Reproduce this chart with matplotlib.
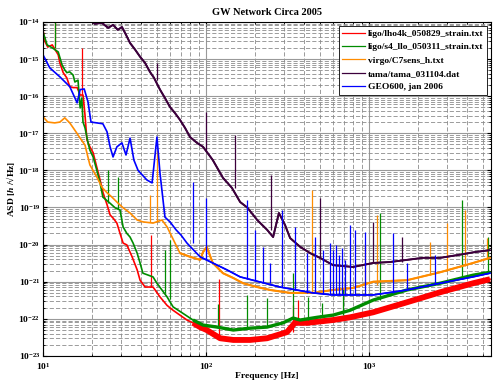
import numpy as np
import matplotlib
matplotlib.use("Agg")
import matplotlib.pyplot as plt
from matplotlib.ticker import FixedLocator, NullFormatter

plt.rcParams['font.family'] = ['Liberation Serif', 'DejaVu Serif']
plt.rcParams['font.weight'] = 'bold'
plt.rcParams['mathtext.fontset'] = 'custom'
plt.rcParams['mathtext.rm'] = 'Liberation Serif:bold'
plt.rcParams['mathtext.bf'] = 'Liberation Serif:bold'
plt.rcParams['mathtext.it'] = 'Liberation Serif:italic:bold'
plt.rcParams['mathtext.default'] = 'bf'

# ---- data (Hz, strain / sqrt(Hz)) ----
lho_f = [10, 10.3, 10.7, 11.4, 12.4, 12.7, 13.3, 14.0, 14.6, 15.3, 16.2, 16.9, 17.6,
         18.1, 18.6, 19.4, 20.3, 21.4, 22.4, 23.3, 24.7, 25.8, 26.9, 28.4, 29.7, 31.0,
         32.7, 35.2, 37.8, 39.4, 42.3, 47.3, 52.2, 57.7, 62.8, 69.2, 76.4, 83.2, 91.9,
         101, 122, 147, 186, 237, 314, 351, 417, 601, 764, 1059, 1710, 2728, 4345, 5521]
lho_asd = [6.1e-15, 2.9e-15, 2.1e-15, 2.4e-15, 1.3e-15, 7.8e-16, 4.3e-16, 3.1e-16, 1.8e-16,
           1.7e-16, 1.7e-16, 1.07e-16, 1.07e-16, 3.1e-17, 6.6e-18, 4.3e-18, 3.0e-18, 1.2e-18,
           5.5e-19, 2.6e-19, 1.2e-19, 6.3e-20, 5.2e-20, 3.8e-20, 2.0e-20, 1.1e-20, 9.8e-21,
           4.7e-21, 2.1e-21, 1.1e-21, 7.2e-22, 7.2e-22, 3.9e-22, 2.3e-22, 1.7e-22, 1.26e-22,
           9.3e-23, 7.8e-23, 6.0e-23, 5.0e-23, 3.0e-23, 2.7e-23, 2.7e-23, 3.0e-23, 4.4e-23,
           7.8e-23, 7.8e-23, 9.3e-23, 1.1e-22, 1.5e-22, 2.8e-22, 5.2e-22, 9.1e-22, 1.17e-21]
lho_spk_f = [11.85, 17.3, 46, 120, 342, 367]
lho_spk_lo = [2.4e-15, 1.07e-16, 7e-22, 3e-23, 4.4e-23, 7.8e-23]
lho_spk_hi = [1.2e-14, 2.0e-15, 1.8e-20, 1.2e-21, 2.3e-22, 3.2e-22]

llo_f = [10, 10.6, 11.4, 12.4, 13.1, 13.6, 14.0, 14.6, 15.3, 15.7, 16.4, 16.9, 17.3, 17.6,
         18.1, 18.9, 19.4, 20.3, 21.4, 22.4, 23.3, 25.8, 27.7, 29.7, 31.0, 32.7, 34.2, 35.7,
         37.8, 39.4, 41.0, 47.3, 50, 57.7, 62.8, 72.3, 83.2, 95.9, 117, 147, 186, 237, 297,
         342, 378, 480, 601, 764, 1059, 1710, 2728, 4345, 5521]
llo_asd = [5.4e-15, 2.4e-15, 2.0e-15, 1.55e-15, 6.9e-16, 5.1e-16, 4.3e-16, 4.5e-16, 3.7e-16,
           2.4e-16, 2.7e-16, 4.8e-17, 8.9e-17, 2.0e-17, 1.4e-17, 5.5e-18, 3.5e-18, 2.3e-18,
           1.0e-18, 4.6e-19, 1.9e-19, 1.3e-19, 9.8e-20, 8.5e-20, 3.0e-20, 2.0e-20, 1.6e-20,
           1.1e-20, 5.9e-21, 3.2e-21, 1.7e-21, 1.35e-21, 9.1e-22, 3.9e-22, 2.1e-22, 1.4e-22,
           9.3e-23, 6.8e-23, 6.0e-23, 5.0e-23, 5.6e-23, 6.0e-23, 7.8e-23, 1.05e-22, 9.3e-23,
           1.1e-22, 1.26e-22, 1.7e-22, 3.2e-22, 6.0e-22, 9.1e-22, 1.5e-21, 1.8e-21]
llo_spk_f = [11.85, 25.1, 28.8, 56, 60, 119, 179, 237, 342, 422, 515, 692, 1167, 3724, 5370]
llo_spk_lo = [2.0e-15, 1.3e-19, 9e-20, 5e-22, 3.5e-22, 6e-23, 5.6e-23, 6e-23, 1e-22, 9.3e-23,
              1.1e-22, 1.3e-22, 3.3e-22, 1.2e-21, 1.7e-21]
llo_spk_hi = [1.2e-14, 1.0e-18, 6.6e-19, 7.1e-21, 1.3e-20, 2.5e-22, 4.4e-22, 3.6e-22, 1.7e-21,
              3.9e-22, 2.7e-22, 6.8e-22, 7.1e-20, 1.6e-19, 1.6e-20]

virgo_f = [10, 10.7, 11.8, 12.7, 13.6, 14.6, 15.7, 16.9, 18.1, 19.4, 21.4, 23.0, 24.7, 26.5,
           28.4, 31.0, 34.2, 37.8, 41.0, 47.3, 53.7, 57.7, 69.2, 79.8, 91.9, 95.9, 101, 110,
           127, 147, 169, 206, 247, 328, 453, 601, 798, 1059, 1710, 2728, 4345, 5521]
virgo_asd = [2.8e-17, 2.0e-17, 1.9e-17, 2.0e-17, 2.6e-17, 1.9e-17, 1.2e-17, 7.4e-18, 4.8e-18,
             1.4e-18, 6.6e-19, 3.5e-19, 2.5e-19, 1.9e-19, 1.4e-19, 9.8e-20, 7.1e-20, 4.6e-20,
             4.1e-20, 3.8e-20, 4.6e-20, 3.0e-20, 5.9e-21, 4.7e-21, 3.9e-21, 6.3e-21, 8.7e-21,
             3.2e-21, 1.7e-21, 1.26e-21, 9.1e-22, 7.2e-22, 6.0e-22, 5.0e-22, 5.0e-22, 6.0e-22,
             6.8e-22, 1.0e-21, 1.1e-21, 1.8e-21, 3.2e-21, 4.4e-21]
virgo_spk_f = [45.3, 50, 447, 945, 1119, 2366, 3013, 3882, 5297]
virgo_spk_lo = [4e-20, 4e-20, 5e-22, 7.5e-22, 8e-22, 1.5e-21, 1.9e-21, 2.6e-21, 4e-21]
virgo_spk_hi = [2.2e-19, 3.5e-18, 3.0e-19, 9.7e-21, 6.3e-20, 1.2e-20, 3.8e-20, 8.5e-20, 1.5e-20]

tama_f = [18.4, 20.8, 23.0, 25.1, 26.9, 28.8, 30.5, 32.3, 34.2, 36.7, 39.4, 42.3, 45.3, 48.0,
          52.2, 56.0, 60.1, 64.5, 69.2, 74.3, 79.8, 88.1, 95.9, 110, 127, 144, 162, 179, 206,
          237, 258, 280, 305, 328, 378, 435, 500, 601, 798, 1059, 1346, 2142, 2728, 3467,
          4467, 5521]
tama_asd = [1.3e-14, 8.9e-15, 9.4e-15, 6.9e-15, 8.3e-15, 6.1e-15, 7.3e-15, 4.5e-15, 2.7e-15,
            1.8e-15, 1.15e-15, 7.8e-16, 4.5e-16, 3.1e-16, 1.5e-16, 8.9e-17, 5.1e-17, 3.5e-17,
            2.3e-17, 1.4e-17, 7.9e-18, 5.5e-18, 4.3e-18, 1.9e-18, 6.3e-19, 3.4e-19, 1.4e-19,
            1.0e-19, 4.6e-20, 2.5e-20, 1.6e-20, 7.1e-20, 3.4e-20, 1.5e-20, 8.7e-21, 5.9e-21,
            4.4e-21, 2.8e-21, 2.5e-21, 3.2e-21, 3.4e-21, 4.4e-21, 4.4e-21, 5.2e-21, 6.3e-21,
            7.1e-21]
tama_spk_f = [50, 100, 150, 250, 500, 1059, 1592]
tama_spk_lo = [2.7e-16, 3.5e-18, 3.4e-19, 2.5e-20, 4.4e-21, 3.2e-21, 3.4e-21]
tama_spk_hi = [8e-16, 3.7e-17, 8.9e-18, 7.6e-19, 1.8e-19, 4.1e-20, 1.6e-20]

geo_f = [10, 11.0, 12.7, 14.6, 16.2, 16.9, 17.9, 18.9, 19.7, 21.4, 23.3, 24.7, 25.8, 26.9,
         28.4, 30.5, 32.3, 34.2, 36.1, 38.3, 43.4, 46.7, 50, 52.2, 56.0, 60.1, 65.5, 70.3,
         76.4, 91.9, 110, 134, 162, 194, 284, 453, 601, 798, 1059, 1710, 2728, 4345, 5521]
geo_asd = [1.3e-15, 5.8e-16, 3.3e-16, 1.8e-16, 6.6e-17, 1.5e-16, 1.56e-16, 6.9e-17, 2.0e-17,
           1.9e-17, 1.8e-17, 1.1e-17, 4.3e-18, 2.3e-18, 4.3e-18, 5.5e-18, 2.6e-18, 7.4e-18,
           1.9e-18, 1.0e-18, 5.5e-19, 4.6e-19, 7.9e-18, 8.5e-19, 5.5e-20, 4.1e-20, 2.5e-20,
           1.8e-20, 1.1e-20, 4.7e-21, 3.2e-21, 2.1e-21, 1.35e-21, 1.1e-21, 7.2e-22, 5.0e-22,
           4.4e-22, 4.4e-22, 4.4e-22, 6.0e-22, 9.1e-22, 1.35e-21, 1.7e-21]
geo_spk_f = [83.2, 100, 179, 200, 224, 247, 292, 351, 417, 467, 522, 577, 601, 628, 655, 683,
             712, 764, 820, 945, 1403, 1710, 2541]
geo_spk_lo = [1.1e-20, 4e-21, 1.2e-21, 1.1e-21, 1.0e-21, 9e-22, 7e-22, 6e-22, 5e-22, 5e-22,
              4.8e-22, 4.5e-22, 4.4e-22, 4.4e-22, 4.4e-22, 4.4e-22, 4.4e-22, 4.4e-22, 4.4e-22,
              4.4e-22, 5e-22, 6e-22, 8.5e-22]
geo_spk_hi = [4.9e-19, 1.8e-19, 1.6e-19, 2.5e-20, 8.5e-21, 3.2e-21, 8.5e-20, 2.9e-20, 5.9e-21,
              1.6e-20, 7.1e-21, 1.1e-20, 7.1e-21, 9.7e-21, 5.2e-21, 8.1e-21, 3.9e-21, 3.4e-20,
              2.5e-20, 2.2e-20, 2.0e-20, 3.2e-21, 5.2e-21]

labels = ['ligo/lho4k_050829_strain.txt', 'ligo/s4_llo_050311_strain.txt',
          'virgo/C7sens_h.txt', 'tama/tama_031104.dat', 'GEO600, jan 2006']

x_decades = [10, 100, 1000]
y_decades = [10.0 ** e for e in range(-23, -13)]

# colour, width of the noisy band, frequency where the band starts
series = [
    (lho_f, lho_asd, lho_spk_f, lho_spk_lo, lho_spk_hi, '#ff0000', 4.2, 80),
    (llo_f, llo_asd, llo_spk_f, llo_spk_lo, llo_spk_hi, '#008c00', 2.4, 80),
    (virgo_f, virgo_asd, virgo_spk_f, virgo_spk_lo, virgo_spk_hi, '#ff8c00', 1.5, 60),
    (tama_f, tama_asd, tama_spk_f, tama_spk_lo, tama_spk_hi, '#3c003c', 1.4, 10),
    (geo_f, geo_asd, geo_spk_f, geo_spk_lo, geo_spk_hi, '#0000ff', 1.0, 90),
]

fig = plt.figure(figsize=(4.94, 3.84), dpi=100)
ax = fig.add_axes([0.087, 0.073, 0.907, 0.870])

for (f, a, sf, slo, shi, col, band, fstart), lab in zip(series, labels):
    f = np.array(f)
    a = np.array(a)
    ax.loglog(f, a, color=col, lw=1.2, label=lab)
    hi_part = f >= fstart
    ax.loglog(f[hi_part], a[hi_part], color=col, lw=band, solid_capstyle='butt')
    ax.vlines(sf, slo, shi, color=col, lw=0.9)

ax.set_xlim(10, 5600)
ax.set_ylim(1e-23, 1e-14)

ax.xaxis.set_major_locator(FixedLocator(x_decades))
ax.yaxis.set_major_locator(FixedLocator(y_decades))
ax.xaxis.set_minor_locator(FixedLocator([d * m for d in [10, 100, 1000] for m in range(2, 10)
                                         if d * m <= 5600]))
ax.yaxis.set_minor_locator(FixedLocator([d * m for d in y_decades[:-1] for m in range(2, 10)]))
ax.yaxis.set_minor_formatter(NullFormatter())
ax.xaxis.set_minor_formatter(NullFormatter())

ax.grid(True, which='major', color='0.6', ls='-', lw=0.8)
ax.grid(True, which='minor', color='0.55', ls=(0, (5, 2.5)), lw=0.6)
ax.set_axisbelow(True)
ax.tick_params(which='both', direction='in', top=True, right=True, labelsize=6.8, pad=2)
ax.tick_params(axis='x', which='major', pad=3.5)
ax.tick_params(which='major', length=3)
ax.tick_params(which='minor', length=1.5)

ax.set_title('GW Network Circa 2005', fontsize=7.5, fontweight='bold', pad=5)
ax.set_xlabel('Frequency [Hz]', fontsize=6.8, fontweight='bold', labelpad=0)
ax.set_ylabel('ASD [$\\mathit{h}$ /\u221aHz]', fontsize=6.8, fontweight='bold', labelpad=1)

leg = ax.legend(loc='upper right', fontsize=6.8, frameon=True, fancybox=False,
                edgecolor='black', framealpha=1, borderpad=0.35, labelspacing=0.5,
                handlelength=2.4, handletextpad=0.3, borderaxespad=0.45)
leg.get_frame().set_linewidth(0.6)
for line in leg.get_lines():
    line.set_linewidth(0.9)

fig.savefig('out.png', dpi=100)
